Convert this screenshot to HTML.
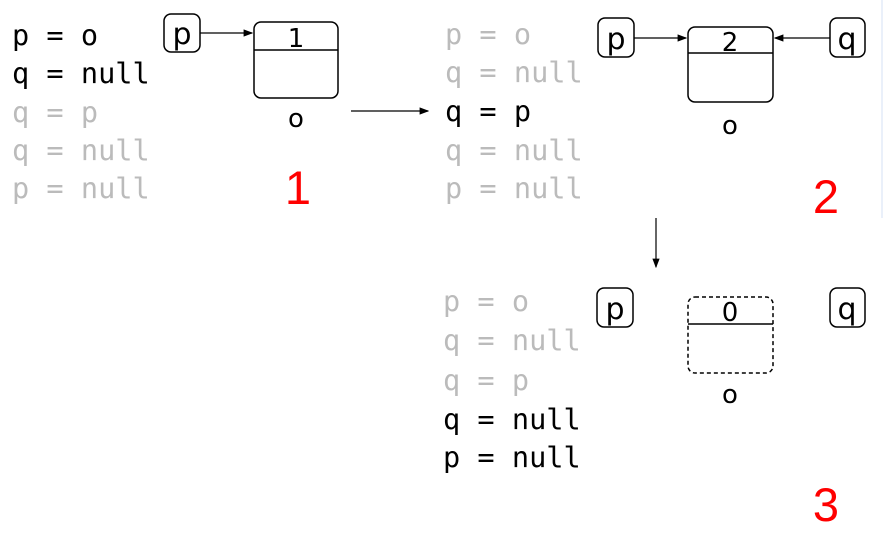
<!DOCTYPE html>
<html><head><meta charset="utf-8"><style>
html,body{margin:0;padding:0;background:#fff;width:884px;height:536px;overflow:hidden}
svg{display:block}
.code{font-family:"DejaVu Sans Mono","Liberation Mono",monospace;font-size:28.6px;white-space:pre}
.on{fill:#000}.off{fill:#bbb}
.lbl{font-family:"DejaVu Sans","Liberation Sans",sans-serif;font-size:26px;fill:#000}
.vl{font-family:"DejaVu Sans","Liberation Sans",sans-serif;font-size:30px;fill:#000}
.num{font-family:"Liberation Sans",sans-serif;font-size:47px;fill:#f00}
</style></head><body>
<svg width="884" height="536" viewBox="0 0 884 536">
<defs><marker id="ah" markerWidth="8" markerHeight="8" refX="7" refY="4" orient="auto"><path d="M0,1 L8,4 L0,7 Z" fill="#000"/></marker></defs>
<line x1="882" y1="0" x2="882" y2="218" stroke="#e3ecf8" stroke-width="1.5"/>

<g>
<g class="code">
<text x="12" y="45" class="on">p = o</text>
<text x="12" y="83" class="on">q = null</text>
<text x="12" y="122" class="off">q = p</text>
<text x="12" y="160" class="off">q = null</text>
<text x="12" y="198" class="off">p = null</text>
</g>
<rect x="164" y="14" width="36" height="38" rx="7" fill="none" stroke="#000" stroke-width="1.5"/>
<text x="182" y="44" text-anchor="middle" class="vl">p</text>
<line x1="200" y1="33" x2="252" y2="33" stroke="#000" stroke-width="1.2" marker-end="url(#ah)"/>
<rect x="254" y="22" width="84" height="76" rx="7" fill="none" stroke="#000" stroke-width="1.5"/>
<line x1="254" y1="50" x2="338" y2="50" stroke="#000" stroke-width="1.5"/>
<text x="296" y="47" text-anchor="middle" class="lbl">1</text>
<text x="296" y="127" text-anchor="middle" class="lbl">o</text>
<text x="298" y="204" text-anchor="middle" class="num">1</text>
</g>
<line x1="351" y1="111" x2="428" y2="111" stroke="#000" stroke-width="1.2" marker-end="url(#ah)"/>

<g>
<g class="code">
<text x="445" y="44" class="off">p = o</text>
<text x="445" y="82" class="off">q = null</text>
<text x="445" y="121" class="on">q = p</text>
<text x="445" y="160" class="off">q = null</text>
<text x="445" y="198" class="off">p = null</text>
</g>
<rect x="598" y="18" width="36" height="39" rx="7" fill="none" stroke="#000" stroke-width="1.5"/>
<text x="616" y="49" text-anchor="middle" class="vl">p</text>
<line x1="634" y1="38" x2="686" y2="38" stroke="#000" stroke-width="1.2" marker-end="url(#ah)"/>
<rect x="830" y="18" width="35" height="39" rx="7" fill="none" stroke="#000" stroke-width="1.5"/>
<text x="847" y="49" text-anchor="middle" class="vl">q</text>
<line x1="830" y1="38" x2="775" y2="38" stroke="#000" stroke-width="1.2" marker-end="url(#ah)"/>
<rect x="688" y="27" width="85" height="75" rx="7" fill="none" stroke="#000" stroke-width="1.5"/>
<line x1="688" y1="53" x2="773" y2="53" stroke="#000" stroke-width="1.5"/>
<text x="730" y="51" text-anchor="middle" class="lbl">2</text>
<text x="730" y="134" text-anchor="middle" class="lbl">o</text>
<text x="826" y="213" text-anchor="middle" class="num">2</text>
</g>
<line x1="656" y1="218" x2="656" y2="267" stroke="#000" stroke-width="1.2" marker-end="url(#ah)"/>

<g>
<g class="code">
<text x="443" y="311" class="off">p = o</text>
<text x="443" y="350" class="off">q = null</text>
<text x="443" y="390" class="off">q = p</text>
<text x="443" y="429" class="on">q = null</text>
<text x="443" y="467" class="on">p = null</text>
</g>
<rect x="597" y="288" width="36" height="39" rx="7" fill="none" stroke="#000" stroke-width="1.5"/>
<text x="615" y="319" text-anchor="middle" class="vl">p</text>
<rect x="830" y="288" width="35" height="39" rx="7" fill="none" stroke="#000" stroke-width="1.5"/>
<text x="847" y="319" text-anchor="middle" class="vl">q</text>
<rect x="688" y="297" width="85" height="76" rx="7" fill="none" stroke="#000" stroke-width="1.5" stroke-dasharray="4,3"/>
<line x1="688" y1="324" x2="773" y2="324" stroke="#000" stroke-width="1.5"/>
<text x="730" y="321" text-anchor="middle" class="lbl">0</text>
<text x="730" y="403" text-anchor="middle" class="lbl">o</text>
<text x="826" y="521" text-anchor="middle" class="num">3</text>
</g>
</svg>
</body></html>
